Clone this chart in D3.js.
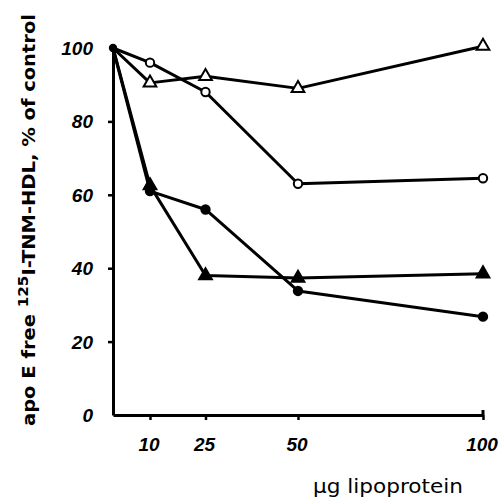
<!DOCTYPE html>
<html>
<head>
<meta charset="utf-8">
<script src="https://cdn.jsdelivr.net/npm/d3@7"></script>
<style>
  body { margin: 0; background: #fff; }
  svg { display: block; }
</style>
</head>
<body>
<svg width="500" height="499"></svg>
<script>
// Data (x = µg lipoprotein, y = % of control)
const doses = [0, 10, 25, 50, 100];
const openCircle = [100, 96, 88, 63, 64.5];
const openTriangle = [100, 90.5, 92.3, 89, 100.5];
const filledCircle = [100, 61, 56, 33.8, 26.8];
const filledTriangle = [100, 62.5, 38, 37.3, 38.5];
const xTicks = [10, 25, 50, 100];
const yTicks = [0, 20, 40, 60, 80, 100];

const svg = d3.select("svg");

const xScale = d3.scaleLinear().domain([0, 100]).range([113, 483]);
const yScale = d3.scaleLinear().domain([0, 100]).range([415, 48]);

const series = [
    { values: filledCircle, shape: "circle", filled: true },
    { values: filledTriangle, shape: "triangle", filled: true },
    { values: openCircle, shape: "circle", filled: false },
    { values: openTriangle, shape: "triangle", filled: false }
];

// Axes
const yAxis = d3.axisLeft(yScale)
    .tickValues([20, 40, 60, 80])
    .tickSize(5)
    .tickSizeOuter(0)
    .tickFormat("");
const xAxis = d3.axisBottom(xScale)
    .tickValues(xTicks)
    .tickSize(5)
    .tickSizeOuter(0)
    .tickFormat("");

const gy = svg.append("g")
    .attr("transform", `translate(${xScale(0)},0)`)
    .call(yAxis);
const gx = svg.append("g")
    .attr("transform", `translate(0,${yScale(0)})`)
    .call(xAxis);

[gx, gy].forEach(g => {
    g.select(".domain").attr("stroke", "#000").attr("stroke-width", 3);
    g.selectAll(".tick line").attr("stroke", "#000").attr("stroke-width", 2.5);
});
// small upturn at the end of the x axis
svg.append("path")
    .attr("d", `M${xScale(100)},${yScale(0)} V${yScale(0) - 5}`)
    .attr("stroke", "#000").attr("stroke-width", 3);

// Tick labels
svg.append("g").selectAll("text")
    .data(yTicks)
    .join("text")
    .attr("x", 93)
    .attr("y", d => yScale(d) + 7)
    .attr("text-anchor", "end")
    .attr("font-family", "Liberation Sans, Arial, sans-serif")
    .attr("font-style", "italic")
    .attr("font-weight", "bold")
    .attr("font-size", 19)
    .text(d => d);

svg.append("g").selectAll("text")
    .data(xTicks)
    .join("text")
    .attr("x", d => xScale(d) - 1)
    .attr("y", 451)
    .attr("text-anchor", "middle")
    .attr("font-family", "Liberation Sans, Arial, sans-serif")
    .attr("font-style", "italic")
    .attr("font-weight", "bold")
    .attr("font-size", 19)
    .text(d => d);

// Axis titles
svg.append("text")
    .attr("x", 463)
    .attr("y", 493)
    .attr("text-anchor", "end")
    .attr("font-family", "DejaVu Sans, sans-serif")
    .attr("font-size", 19)
    .attr("textLength", 150)
    .attr("lengthAdjust", "spacingAndGlyphs")
    .text("µg lipoprotein");

const yTitle = svg.append("text")
    .attr("transform", "translate(35,220) rotate(-90)")
    .attr("text-anchor", "middle")
    .attr("font-family", "DejaVu Sans, sans-serif")
    .attr("font-weight", "bold")
    .attr("font-size", 18)
    .attr("textLength", 412)
    .attr("lengthAdjust", "spacingAndGlyphs");
yTitle.append("tspan").text("apo E free ");
yTitle.append("tspan").attr("dy", -7).attr("font-size", 14).text("125");
yTitle.append("tspan").attr("dy", 7).text("I-TNM-HDL, % of control");

// Lines
const line = d3.line()
    .x((d, i) => xScale(doses[i]))
    .y(d => yScale(d));

svg.append("g").selectAll("path")
    .data(series)
    .join("path")
    .attr("fill", "none")
    .attr("stroke", "#000")
    .attr("stroke-width", 3)
    .attr("stroke-linejoin", "round")
    .attr("d", d => line(d.values));

// Markers
const circleSym = d3.symbol().type(d3.symbolCircle).size(55);
const triSym = d3.symbol().type(d3.symbolTriangle).size(70);

series.forEach(s => {
    svg.append("g").selectAll("path")
        .data(s.values.map((v, i) => ({ x: doses[i], y: v })).filter(p => p.x > 0))
        .join("path")
        .attr("transform", p => `translate(${xScale(p.x)},${yScale(p.y)})`)
        .attr("d", s.shape === "circle" ? circleSym : triSym)
        .attr("fill", s.filled ? "#000" : "#fff")
        .attr("stroke", "#000")
        .attr("stroke-width", 2);
});

// shared starting point
svg.append("path")
    .attr("transform", `translate(${xScale(0)},${yScale(100)})`)
    .attr("d", circleSym)
    .attr("fill", "#000");
</script>
</body>
</html>
